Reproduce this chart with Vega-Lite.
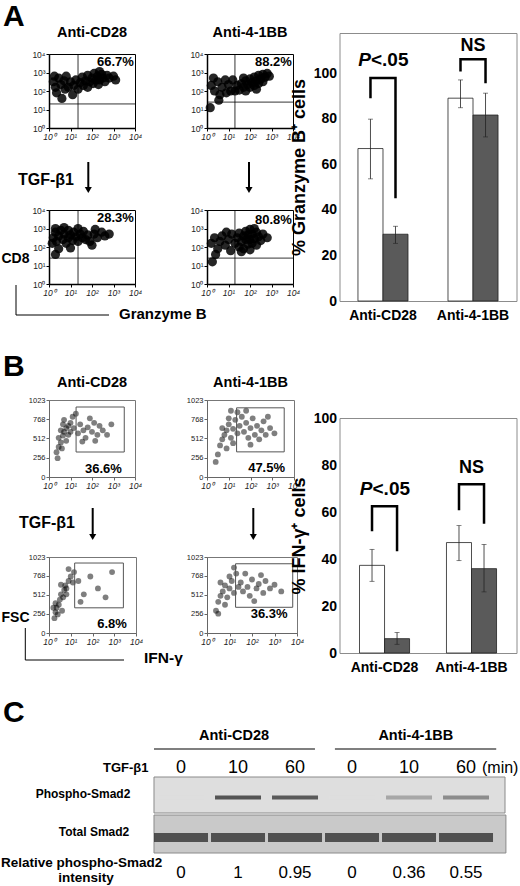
{
"$schema":"https://vega.github.io/schema/vega-lite/v6.json",
"padding":0,
"background":"white",
"config":{"font":"Liberation Sans","view":{"stroke":null},"title":{"font":"Liberation Sans"},"axis":{"labelFont":"Liberation Sans","titleFont":"Liberation Sans"}},
"datasets":{
"flowA":[
{"plot":"A1","lx":1.15,"ly":2.3},{"plot":"A1","lx":1.25,"ly":2.6},{"plot":"A1","lx":1.35,"ly":2.1},{"plot":"A1","lx":1.45,"ly":2.45},{"plot":"A1","lx":1.55,"ly":2.75},{"plot":"A1","lx":1.6,"ly":2.3},{"plot":"A1","lx":1.7,"ly":2.55},{"plot":"A1","lx":1.8,"ly":2.85},{"plot":"A1","lx":1.8,"ly":2.2},{"plot":"A1","lx":1.9,"ly":2.5},{"plot":"A1","lx":2.0,"ly":2.7},{"plot":"A1","lx":2.05,"ly":2.4},{"plot":"A1","lx":2.1,"ly":2.95},{"plot":"A1","lx":2.2,"ly":2.6},{"plot":"A1","lx":2.25,"ly":2.8},{"plot":"A1","lx":2.3,"ly":2.35},{"plot":"A1","lx":2.35,"ly":2.6},{"plot":"A1","lx":2.45,"ly":2.9},{"plot":"A1","lx":2.5,"ly":2.7},{"plot":"A1","lx":2.6,"ly":2.5},{"plot":"A1","lx":2.7,"ly":2.85},{"plot":"A1","lx":2.8,"ly":2.7},{"plot":"A1","lx":2.35,"ly":3.05},{"plot":"A1","lx":1.0,"ly":2.5},{"plot":"A1","lx":0.9,"ly":2.2},
{"plot":"A1","lx":0.2,"ly":2.5},{"plot":"A1","lx":0.3,"ly":2.2},{"plot":"A1","lx":0.45,"ly":2.7},{"plot":"A1","lx":0.55,"ly":2.35},{"plot":"A1","lx":0.7,"ly":2.55},{"plot":"A1","lx":0.75,"ly":2.1},{"plot":"A1","lx":0.35,"ly":1.9},{"plot":"A1","lx":0.8,"ly":2.8},{"plot":"A1","lx":0.25,"ly":2.8},{"plot":"A1","lx":1.1,"ly":1.8},{"plot":"A1","lx":0.6,"ly":1.6},{"plot":"A1","lx":3.0,"ly":2.8},{"plot":"A1","lx":3.1,"ly":2.6},
{"plot":"A2","lx":1.3,"ly":2.0},{"plot":"A2","lx":1.4,"ly":2.3},{"plot":"A2","lx":1.5,"ly":2.05},{"plot":"A2","lx":1.6,"ly":2.4},{"plot":"A2","lx":1.7,"ly":2.2},{"plot":"A2","lx":1.8,"ly":2.55},{"plot":"A2","lx":1.8,"ly":2.0},{"plot":"A2","lx":1.9,"ly":2.35},{"plot":"A2","lx":2.0,"ly":2.65},{"plot":"A2","lx":2.0,"ly":2.2},{"plot":"A2","lx":2.1,"ly":2.45},{"plot":"A2","lx":2.2,"ly":2.75},{"plot":"A2","lx":2.2,"ly":2.3},{"plot":"A2","lx":2.3,"ly":2.55},{"plot":"A2","lx":2.4,"ly":2.85},{"plot":"A2","lx":2.4,"ly":2.4},{"plot":"A2","lx":2.5,"ly":2.65},{"plot":"A2","lx":2.6,"ly":2.9},{"plot":"A2","lx":2.6,"ly":2.5},{"plot":"A2","lx":2.7,"ly":2.75},{"plot":"A2","lx":2.8,"ly":2.95},{"plot":"A2","lx":2.9,"ly":2.8},{"plot":"A2","lx":1.7,"ly":2.7},{"plot":"A2","lx":2.3,"ly":2.1},
{"plot":"A2","lx":0.2,"ly":2.3},{"plot":"A2","lx":0.35,"ly":2.0},{"plot":"A2","lx":0.5,"ly":2.5},{"plot":"A2","lx":0.6,"ly":1.8},{"plot":"A2","lx":0.7,"ly":2.2},{"plot":"A2","lx":0.85,"ly":2.6},{"plot":"A2","lx":0.9,"ly":1.9},{"plot":"A2","lx":1.0,"ly":2.35},{"plot":"A2","lx":1.1,"ly":2.0},{"plot":"A2","lx":1.2,"ly":2.6},{"plot":"A2","lx":0.3,"ly":2.7},{"plot":"A2","lx":0.55,"ly":1.5},{"plot":"A2","lx":0.15,"ly":1.1},
{"plot":"A3","lx":0.2,"ly":2.5},{"plot":"A3","lx":0.3,"ly":2.8},{"plot":"A3","lx":0.35,"ly":2.3},{"plot":"A3","lx":0.45,"ly":2.6},{"plot":"A3","lx":0.55,"ly":2.9},{"plot":"A3","lx":0.65,"ly":2.4},{"plot":"A3","lx":0.7,"ly":2.7},{"plot":"A3","lx":0.8,"ly":2.2},{"plot":"A3","lx":0.9,"ly":2.5},{"plot":"A3","lx":0.9,"ly":2.9},{"plot":"A3","lx":1.0,"ly":2.65},{"plot":"A3","lx":1.1,"ly":2.35},{"plot":"A3","lx":1.15,"ly":2.8},{"plot":"A3","lx":1.25,"ly":2.55},{"plot":"A3","lx":1.35,"ly":2.3},{"plot":"A3","lx":1.45,"ly":2.7},{"plot":"A3","lx":1.55,"ly":2.5},{"plot":"A3","lx":1.6,"ly":2.85},{"plot":"A3","lx":1.7,"ly":2.4},{"plot":"A3","lx":1.8,"ly":2.65},{"plot":"A3","lx":1.9,"ly":2.3},{"plot":"A3","lx":0.3,"ly":3.0},{"plot":"A3","lx":0.7,"ly":3.05},{"plot":"A3","lx":1.35,"ly":3.0},{"plot":"A3","lx":0.15,"ly":2.2},
{"plot":"A3","lx":2.1,"ly":2.7},{"plot":"A3","lx":2.25,"ly":2.5},{"plot":"A3","lx":2.45,"ly":2.8},{"plot":"A3","lx":2.6,"ly":2.6},{"plot":"A3","lx":2.8,"ly":2.7},{"plot":"A3","lx":2.0,"ly":2.1},{"plot":"A3","lx":0.45,"ly":1.9},{"plot":"A3","lx":1.0,"ly":1.95},{"plot":"A3","lx":0.3,"ly":1.6},{"plot":"A3","lx":2.15,"ly":2.95},
{"plot":"A4","lx":1.3,"ly":2.2},{"plot":"A4","lx":1.4,"ly":2.5},{"plot":"A4","lx":1.5,"ly":2.0},{"plot":"A4","lx":1.5,"ly":2.75},{"plot":"A4","lx":1.6,"ly":2.3},{"plot":"A4","lx":1.7,"ly":2.6},{"plot":"A4","lx":1.7,"ly":1.9},{"plot":"A4","lx":1.8,"ly":2.4},{"plot":"A4","lx":1.8,"ly":2.85},{"plot":"A4","lx":1.9,"ly":2.15},{"plot":"A4","lx":1.9,"ly":2.65},{"plot":"A4","lx":2.0,"ly":2.4},{"plot":"A4","lx":2.0,"ly":2.95},{"plot":"A4","lx":2.1,"ly":2.2},{"plot":"A4","lx":2.1,"ly":2.7},{"plot":"A4","lx":2.2,"ly":2.45},{"plot":"A4","lx":2.3,"ly":2.8},{"plot":"A4","lx":2.3,"ly":2.1},{"plot":"A4","lx":2.4,"ly":2.55},{"plot":"A4","lx":2.5,"ly":2.35},{"plot":"A4","lx":2.6,"ly":2.7},{"plot":"A4","lx":1.6,"ly":1.75},{"plot":"A4","lx":2.2,"ly":3.0},{"plot":"A4","lx":2.0,"ly":1.85},
{"plot":"A4","lx":0.2,"ly":2.2},{"plot":"A4","lx":0.35,"ly":2.5},{"plot":"A4","lx":0.5,"ly":1.9},{"plot":"A4","lx":0.6,"ly":2.3},{"plot":"A4","lx":0.7,"ly":2.6},{"plot":"A4","lx":0.85,"ly":2.1},{"plot":"A4","lx":1.0,"ly":2.4},{"plot":"A4","lx":1.1,"ly":1.8},{"plot":"A4","lx":1.15,"ly":2.7},{"plot":"A4","lx":0.4,"ly":1.6},{"plot":"A4","lx":0.9,"ly":2.8},{"plot":"A4","lx":2.8,"ly":2.5},{"plot":"A4","lx":0.25,"ly":1.2}
],
"quadA":[{"plot":"A1","lx":1.35,"lx2":1.35,"ly":0,"ly2":4},{"plot":"A1","lx":0,"lx2":4,"ly":1.3,"ly2":1.3},{"plot":"A2","lx":1.3,"lx2":1.3,"ly":0,"ly2":4},{"plot":"A2","lx":0,"lx2":4,"ly":1.4,"ly2":1.4},{"plot":"A3","lx":1.35,"lx2":1.35,"ly":0,"ly2":4},{"plot":"A3","lx":0,"lx2":4,"ly":1.4,"ly2":1.4},{"plot":"A4","lx":1.3,"lx2":1.3,"ly":0,"ly2":4},{"plot":"A4","lx":0,"lx2":4,"ly":1.4,"ly2":1.4}],
"pctA":[{"plot":"A1","label":"66.7%","lx":3.95,"ly":3.55},{"plot":"A2","label":"88.2%","lx":3.95,"ly":3.55},{"plot":"A3","label":"28.3%","lx":3.95,"ly":3.55},{"plot":"A4","label":"80.8%","lx":3.95,"ly":3.45}],
"flowB":[
{"plot":"B1","lx":0.35,"fsc":330},{"plot":"B1","lx":0.45,"fsc":400},{"plot":"B1","lx":0.55,"fsc":460},{"plot":"B1","lx":0.45,"fsc":520},{"plot":"B1","lx":0.65,"fsc":550},{"plot":"B1","lx":0.7,"fsc":600},{"plot":"B1","lx":0.8,"fsc":650},{"plot":"B1","lx":0.65,"fsc":700},{"plot":"B1","lx":0.9,"fsc":560},{"plot":"B1","lx":1.0,"fsc":720},{"plot":"B1","lx":1.1,"fsc":800},{"plot":"B1","lx":0.8,"fsc":480},{"plot":"B1","lx":0.55,"fsc":620},{"plot":"B1","lx":0.9,"fsc":680},{"plot":"B1","lx":1.0,"fsc":600},{"plot":"B1","lx":0.7,"fsc":760},{"plot":"B1","lx":1.15,"fsc":650},{"plot":"B1","lx":0.4,"fsc":250},{"plot":"B1","lx":0.6,"fsc":380},
{"plot":"B1","lx":1.35,"fsc":580},{"plot":"B1","lx":1.45,"fsc":700},{"plot":"B1","lx":1.6,"fsc":620},{"plot":"B1","lx":1.7,"fsc":520},{"plot":"B1","lx":1.8,"fsc":660},{"plot":"B1","lx":2.0,"fsc":600},{"plot":"B1","lx":2.1,"fsc":720},{"plot":"B1","lx":2.25,"fsc":560},{"plot":"B1","lx":2.35,"fsc":680},{"plot":"B1","lx":2.5,"fsc":620},{"plot":"B1","lx":2.7,"fsc":560},{"plot":"B1","lx":1.55,"fsc":470},{"plot":"B1","lx":1.9,"fsc":780},{"plot":"B1","lx":2.15,"fsc":480},{"plot":"B1","lx":2.9,"fsc":700},{"plot":"B1","lx":1.25,"fsc":840},
{"plot":"B2","lx":0.5,"fsc":300},{"plot":"B2","lx":0.6,"fsc":420},{"plot":"B2","lx":0.7,"fsc":500},{"plot":"B2","lx":0.8,"fsc":560},{"plot":"B2","lx":0.9,"fsc":620},{"plot":"B2","lx":1.0,"fsc":700},{"plot":"B2","lx":1.1,"fsc":520},{"plot":"B2","lx":1.2,"fsc":640},{"plot":"B2","lx":1.3,"fsc":760},{"plot":"B2","lx":1.4,"fsc":580},{"plot":"B2","lx":1.5,"fsc":680},{"plot":"B2","lx":1.2,"fsc":450},{"plot":"B2","lx":0.9,"fsc":380},{"plot":"B2","lx":1.0,"fsc":780},{"plot":"B2","lx":1.6,"fsc":800},{"plot":"B2","lx":1.4,"fsc":860},{"plot":"B2","lx":0.7,"fsc":650},{"plot":"B2","lx":0.4,"fsc":200},{"plot":"B2","lx":1.1,"fsc":880},
{"plot":"B2","lx":1.7,"fsc":600},{"plot":"B2","lx":1.8,"fsc":720},{"plot":"B2","lx":1.9,"fsc":520},{"plot":"B2","lx":2.0,"fsc":650},{"plot":"B2","lx":2.1,"fsc":780},{"plot":"B2","lx":2.2,"fsc":560},{"plot":"B2","lx":2.3,"fsc":680},{"plot":"B2","lx":2.4,"fsc":500},{"plot":"B2","lx":2.5,"fsc":620},{"plot":"B2","lx":2.6,"fsc":740},{"plot":"B2","lx":2.7,"fsc":560},{"plot":"B2","lx":2.9,"fsc":650},{"plot":"B2","lx":3.1,"fsc":580},{"plot":"B2","lx":2.0,"fsc":430},{"plot":"B2","lx":1.8,"fsc":880},{"plot":"B2","lx":2.8,"fsc":800},
{"plot":"B3","lx":0.25,"fsc":200},{"plot":"B3","lx":0.3,"fsc":280},{"plot":"B3","lx":0.35,"fsc":340},{"plot":"B3","lx":0.3,"fsc":400},{"plot":"B3","lx":0.45,"fsc":380},{"plot":"B3","lx":0.5,"fsc":450},{"plot":"B3","lx":0.55,"fsc":520},{"plot":"B3","lx":0.65,"fsc":480},{"plot":"B3","lx":0.7,"fsc":580},{"plot":"B3","lx":0.75,"fsc":640},{"plot":"B3","lx":0.8,"fsc":600},{"plot":"B3","lx":0.9,"fsc":700},{"plot":"B3","lx":1.0,"fsc":760},{"plot":"B3","lx":1.1,"fsc":680},{"plot":"B3","lx":1.15,"fsc":820},{"plot":"B3","lx":0.4,"fsc":250},{"plot":"B3","lx":0.6,"fsc":300},{"plot":"B3","lx":0.8,"fsc":520},{"plot":"B3","lx":0.9,"fsc":860},{"plot":"B3","lx":0.2,"fsc":340},{"plot":"B3","lx":0.55,"fsc":650},
{"plot":"B3","lx":1.35,"fsc":700},{"plot":"B3","lx":1.6,"fsc":520},{"plot":"B3","lx":1.9,"fsc":760},{"plot":"B3","lx":2.25,"fsc":600},{"plot":"B3","lx":2.6,"fsc":480},{"plot":"B3","lx":1.45,"fsc":420},{"plot":"B3","lx":2.9,"fsc":820},
{"plot":"B4","lx":0.4,"fsc":300},{"plot":"B4","lx":0.5,"fsc":420},{"plot":"B4","lx":0.6,"fsc":500},{"plot":"B4","lx":0.7,"fsc":560},{"plot":"B4","lx":0.8,"fsc":640},{"plot":"B4","lx":0.9,"fsc":480},{"plot":"B4","lx":1.0,"fsc":600},{"plot":"B4","lx":1.1,"fsc":700},{"plot":"B4","lx":1.2,"fsc":540},{"plot":"B4","lx":1.3,"fsc":800},{"plot":"B4","lx":0.8,"fsc":380},{"plot":"B4","lx":1.0,"fsc":760},{"plot":"B4","lx":0.6,"fsc":680},{"plot":"B4","lx":1.4,"fsc":620},{"plot":"B4","lx":0.5,"fsc":260},{"plot":"B4","lx":1.2,"fsc":880},
{"plot":"B4","lx":1.5,"fsc":680},{"plot":"B4","lx":1.6,"fsc":560},{"plot":"B4","lx":1.8,"fsc":620},{"plot":"B4","lx":1.9,"fsc":500},{"plot":"B4","lx":2.0,"fsc":720},{"plot":"B4","lx":2.2,"fsc":600},{"plot":"B4","lx":2.3,"fsc":660},{"plot":"B4","lx":2.5,"fsc":540},{"plot":"B4","lx":2.6,"fsc":700},{"plot":"B4","lx":2.8,"fsc":600},{"plot":"B4","lx":3.0,"fsc":650},{"plot":"B4","lx":3.3,"fsc":560},{"plot":"B4","lx":1.7,"fsc":800},{"plot":"B4","lx":2.1,"fsc":430},{"plot":"B4","lx":2.4,"fsc":780}
],
"gateB":[{"plot":"B1","lx":1.26,"lx2":3.5,"fsc":332,"fsc2":930},{"plot":"B2","lx":1.36,"lx2":3.55,"fsc":334,"fsc2":919},{"plot":"B3","lx":1.18,"lx2":3.42,"fsc":339,"fsc2":942},{"plot":"B4","lx":1.27,"lx2":3.81,"fsc":346,"fsc2":932}],
"pctB":[{"plot":"B1","label":"36.6%","lx":2.53,"fsc":100},{"plot":"B2","label":"47.5%","lx":2.74,"fsc":118},{"plot":"B3","label":"6.8%","lx":2.9,"fsc":125},{"plot":"B4","label":"36.3%","lx":2.76,"fsc":255}],
"granz":[{"group":"Anti-CD28","treat":"none","mean":66.9,"lo":53.6,"hi":79.8},{"group":"Anti-CD28","treat":"TGF-β1","mean":29.3,"lo":25.3,"hi":32.8},{"group":"Anti-4-1BB","treat":"none","mean":89,"lo":84.8,"hi":97},{"group":"Anti-4-1BB","treat":"TGF-β1","mean":81.6,"lo":72,"hi":91.2}],
"ifng":[{"group":"Anti-CD28","treat":"none","mean":37.3,"lo":30.5,"hi":44.1},{"group":"Anti-CD28","treat":"TGF-β1","mean":6.1,"lo":3.7,"hi":8.7},{"group":"Anti-4-1BB","treat":"none","mean":47,"lo":39.3,"hi":54.2},{"group":"Anti-4-1BB","treat":"TGF-β1","mean":35.9,"lo":26,"hi":46.2}],
"bracketA":[{"group":"Anti-CD28","treat":"none","o":1,"y":89},{"group":"Anti-CD28","treat":"none","o":2,"y":97.8},{"group":"Anti-CD28","treat":"TGF-β1","o":3,"y":97.8},{"group":"Anti-CD28","treat":"TGF-β1","o":4,"y":45.1},{"group":"Anti-4-1BB","treat":"none","o":1,"y":100.7},{"group":"Anti-4-1BB","treat":"none","o":2,"y":106.1},{"group":"Anti-4-1BB","treat":"TGF-β1","o":3,"y":106.1},{"group":"Anti-4-1BB","treat":"TGF-β1","o":4,"y":95.6}],
"bracketB":[{"group":"Anti-CD28","treat":"none","o":1,"y":51.8},{"group":"Anti-CD28","treat":"none","o":2,"y":62.4},{"group":"Anti-CD28","treat":"TGF-β1","o":3,"y":62.4},{"group":"Anti-CD28","treat":"TGF-β1","o":4,"y":43.3},{"group":"Anti-4-1BB","treat":"none","o":1,"y":60.7},{"group":"Anti-4-1BB","treat":"none","o":2,"y":71.8},{"group":"Anti-4-1BB","treat":"TGF-β1","o":3,"y":71.8},{"group":"Anti-4-1BB","treat":"TGF-β1","o":4,"y":55}],
"sigA":[{"group":"Anti-CD28","kind":"p","lead":"P","tail":"<.05","y":105.9},{"group":"Anti-4-1BB","kind":"ns","lead":"","tail":"NS","y":111.7}],
"sigB":[{"group":"Anti-CD28","kind":"p","lead":"P","tail":"<.05","y":69.9},{"group":"Anti-4-1BB","kind":"ns","lead":"","tail":"NS","y":78.7}],
"lanes":[{"lane":1,"time":"0","group":"Anti-CD28","pS":0},{"lane":2,"time":"10","group":"Anti-CD28","pS":1},{"lane":3,"time":"60","group":"Anti-CD28","pS":0.95},{"lane":4,"time":"0","group":"Anti-4-1BB","pS":0},{"lane":5,"time":"10","group":"Anti-4-1BB","pS":0.36},{"lane":6,"time":"60","group":"Anti-4-1BB","pS":0.55}],
"blotGroups":[{"group":"Anti-CD28","from":0.526,"to":3.35,"mid":1.93},{"group":"Anti-4-1BB","from":3.7,"to":6.53,"mid":5.12}]
},
"spacing":16,
"vconcat":[
{"spacing":-15.5,"hconcat":[
 {"spacing":-44.2,"hconcat":[
  {"bounds":"flush","spacing":0,"vconcat":[
   {"width":86,"height":54,"data":{"values":[{"t":"A"}]},"mark":{"type":"text","fontSize":30,"fontWeight":"bold","align":"left","baseline":"middle","color":"black"},"encoding":{"x":{"datum":-46,"type":"quantitative","scale":{"domain":[0,86]},"axis":null},"y":{"datum":17,"type":"quantitative","scale":{"domain":[0,54],"reverse":true},"axis":null},"text":{"field":"t"}}},
   {"width":86,"height":74,"title":{"text":"Anti-CD28","fontSize":14.5,"fontWeight":"bold","color":"black","anchor":"middle","frame":"group","offset":10},"view":{"stroke":"black","strokeWidth":1},
    "encoding":{"x":{"field":"lx","type":"quantitative","scale":{"domain":[0,4],"nice":false,"zero":false},"axis":{"values":[0,1,2,3,4],"labelExpr":"'10'+['⁰','¹','²','³','⁴'][datum.value]","labelOverlap":false,"title":null,"grid":false,"domainColor":"black","domainWidth":1.5,"tickSize":3,"tickColor":"black","labelFontSize":8.5,"labelColor":"#222","labelFontStyle":"italic","labelPadding":1,"labelFlush":false}},"y":{"field":"ly","type":"quantitative","scale":{"domain":[0,4],"nice":false,"zero":false},"axis":{"values":[0,1,2,3,4],"labelExpr":"'10'+['⁰','¹','²','³','⁴'][datum.value]","labelOverlap":false,"title":null,"grid":false,"domainColor":"black","domainWidth":1.5,"tickSize":3,"tickColor":"black","labelFontSize":8.5,"labelColor":"#222","labelPadding":1,"labelFlush":false}}},
    "layer":[
     {"data":{"name":"flowA"},"transform":[{"filter":"datum.plot==='A1'"}],"mark":{"type":"circle","size":85,"opacity":0.85,"color":"black"}},
     {"data":{"name":"quadA"},"transform":[{"filter":"datum.plot==='A1'"}],"mark":{"type":"rule","color":"black","strokeWidth":0.8},"encoding":{"x2":{"field":"lx2"},"y2":{"field":"ly2"}}},
     {"data":{"name":"pctA"},"transform":[{"filter":"datum.plot==='A1'"}],"mark":{"type":"text","align":"right","baseline":"middle","fontSize":13,"fontWeight":"bold","color":"black"},"encoding":{"text":{"field":"label"}}}
    ]},
   {"width":86,"height":82,"data":{"values":[{"t":"TGF-β1"}]},
    "layer":[
     {"mark":{"type":"rule","strokeWidth":2,"color":"black"},"encoding":{"x":{"datum":39.3,"type":"quantitative","scale":{"domain":[0,86]},"axis":null},"y":{"datum":34,"type":"quantitative","scale":{"domain":[0,82],"reverse":true},"axis":null},"y2":{"datum":60}}},
     {"mark":{"type":"point","shape":"triangle-down","filled":true,"size":50,"color":"black","opacity":1},"encoding":{"x":{"datum":39.3,"type":"quantitative","scale":{"domain":[0,86]},"axis":null},"y":{"datum":62,"type":"quantitative","scale":{"domain":[0,82],"reverse":true},"axis":null}}},
     {"mark":{"type":"text","fontSize":16,"fontWeight":"bold","align":"center","baseline":"middle","color":"black"},"encoding":{"x":{"datum":-3,"type":"quantitative","scale":{"domain":[0,86]},"axis":null},"y":{"datum":52,"type":"quantitative","scale":{"domain":[0,82],"reverse":true},"axis":null},"text":{"field":"t"}}}
    ]},
   {"width":86,"height":74,"view":{"stroke":"black","strokeWidth":1},
    "encoding":{"x":{"field":"lx","type":"quantitative","scale":{"domain":[0,4],"nice":false,"zero":false},"axis":{"values":[0,1,2,3,4],"labelExpr":"'10'+['⁰','¹','²','³','⁴'][datum.value]","labelOverlap":false,"title":null,"grid":false,"domainColor":"black","domainWidth":1.5,"tickSize":3,"tickColor":"black","labelFontSize":8.5,"labelColor":"#222","labelFontStyle":"italic","labelPadding":1,"labelFlush":false}},"y":{"field":"ly","type":"quantitative","scale":{"domain":[0,4],"nice":false,"zero":false},"axis":{"values":[0,1,2,3,4],"labelExpr":"'10'+['⁰','¹','²','³','⁴'][datum.value]","labelOverlap":false,"title":"CD8","titleAngle":0,"titleAlign":"left","titleBaseline":"middle","titleX":-48,"titleY":48,"titleFontSize":14,"titleFontWeight":"bold","titleColor":"black","grid":false,"domainColor":"black","domainWidth":1.5,"tickSize":3,"tickColor":"black","labelFontSize":8.5,"labelColor":"#222","labelPadding":1,"labelFlush":false}}},
    "layer":[
     {"data":{"name":"flowA"},"transform":[{"filter":"datum.plot==='A3'"}],"mark":{"type":"circle","size":85,"opacity":0.85,"color":"black"}},
     {"data":{"name":"quadA"},"transform":[{"filter":"datum.plot==='A3'"}],"mark":{"type":"rule","color":"black","strokeWidth":0.8},"encoding":{"x2":{"field":"lx2"},"y2":{"field":"ly2"}}},
     {"data":{"name":"pctA"},"transform":[{"filter":"datum.plot==='A3'"}],"mark":{"type":"text","align":"right","baseline":"middle","fontSize":13,"fontWeight":"bold","color":"black"},"encoding":{"text":{"field":"label"}}}
    ]},
   {"width":86,"height":116,"data":{"values":[{"t":"Granzyme B","letter":"B"}]},
    "layer":[
     {"mark":{"type":"rule","strokeWidth":1,"color":"black"},"encoding":{"x":{"datum":-33,"type":"quantitative","scale":{"domain":[0,86]},"axis":null},"y":{"datum":1,"type":"quantitative","scale":{"domain":[0,116],"reverse":true},"axis":null},"y2":{"datum":31}}},
     {"mark":{"type":"rule","strokeWidth":1,"color":"black"},"encoding":{"x":{"datum":-33,"type":"quantitative","scale":{"domain":[0,86]},"axis":null},"x2":{"datum":60},"y":{"datum":31,"type":"quantitative","scale":{"domain":[0,116],"reverse":true},"axis":null}}},
     {"mark":{"type":"text","fontSize":15,"fontWeight":"bold","align":"left","baseline":"middle","color":"black"},"encoding":{"x":{"datum":70,"type":"quantitative","scale":{"domain":[0,86]},"axis":null},"y":{"datum":30,"type":"quantitative","scale":{"domain":[0,116],"reverse":true},"axis":null},"text":{"field":"t"}}},
     {"mark":{"type":"text","fontSize":30,"fontWeight":"bold","align":"left","baseline":"middle","color":"black"},"encoding":{"x":{"datum":-46,"type":"quantitative","scale":{"domain":[0,86]},"axis":null},"y":{"datum":83,"type":"quantitative","scale":{"domain":[0,116],"reverse":true},"axis":null},"text":{"field":"letter"}}}
    ]},
   {"width":86,"height":77,"title":{"text":"Anti-CD28","fontSize":14.5,"fontWeight":"bold","color":"black","anchor":"middle","frame":"group","offset":6},"view":{"stroke":"#777","strokeWidth":1},
    "encoding":{"x":{"field":"lx","type":"quantitative","scale":{"domain":[0,4],"nice":false,"zero":false},"axis":{"values":[0,1,2,3,4],"labelExpr":"'10'+['⁰','¹','²','³','⁴'][datum.value]","labelOverlap":false,"title":null,"grid":false,"domainColor":"#666","tickSize":3,"tickColor":"#666","labelFontSize":8.5,"labelColor":"#222","labelFontStyle":"italic","labelPadding":1,"labelFlush":false}},"y":{"field":"fsc","type":"quantitative","scale":{"domain":[0,1023],"nice":false,"zero":false},"axis":{"values":[0,256,512,768,1023],"format":"d","labelOverlap":false,"title":null,"grid":false,"domainColor":"#666","tickSize":3,"tickColor":"#666","labelFontSize":7.5,"labelColor":"#222","labelPadding":1,"labelFlush":false}}},
    "layer":[
     {"data":{"name":"flowB"},"transform":[{"filter":"datum.plot==='B1'"}],"mark":{"type":"circle","size":34,"opacity":0.5,"color":"black"}},
     {"data":{"name":"gateB"},"transform":[{"filter":"datum.plot==='B1'"}],"mark":{"type":"rect","fill":"white","fillOpacity":0,"stroke":"#555","strokeWidth":1},"encoding":{"x2":{"field":"lx2"},"y2":{"field":"fsc2"}}},
     {"data":{"name":"pctB"},"transform":[{"filter":"datum.plot==='B1'"}],"mark":{"type":"text","align":"center","baseline":"middle","fontSize":13,"fontWeight":"bold","color":"black"},"encoding":{"text":{"field":"label"}}}
    ]},
   {"width":86,"height":80,"data":{"values":[{"t":"TGF-β1"}]},
    "layer":[
     {"mark":{"type":"rule","strokeWidth":2,"color":"black"},"encoding":{"x":{"datum":43.7,"type":"quantitative","scale":{"domain":[0,86]},"axis":null},"y":{"datum":31,"type":"quantitative","scale":{"domain":[0,80],"reverse":true},"axis":null},"y2":{"datum":58}}},
     {"mark":{"type":"point","shape":"triangle-down","filled":true,"size":50,"color":"black","opacity":1},"encoding":{"x":{"datum":43.7,"type":"quantitative","scale":{"domain":[0,86]},"axis":null},"y":{"datum":60,"type":"quantitative","scale":{"domain":[0,80],"reverse":true},"axis":null}}},
     {"mark":{"type":"text","fontSize":16,"fontWeight":"bold","align":"center","baseline":"middle","color":"black"},"encoding":{"x":{"datum":-2,"type":"quantitative","scale":{"domain":[0,86]},"axis":null},"y":{"datum":46,"type":"quantitative","scale":{"domain":[0,80],"reverse":true},"axis":null},"text":{"field":"t"}}}
    ]},
   {"width":87,"height":76,"view":{"stroke":"#777","strokeWidth":1},
    "encoding":{"x":{"field":"lx","type":"quantitative","scale":{"domain":[0,4],"nice":false,"zero":false},"axis":{"values":[0,1,2,3,4],"labelExpr":"'10'+['⁰','¹','²','³','⁴'][datum.value]","labelOverlap":false,"title":null,"grid":false,"domainColor":"#666","tickSize":3,"tickColor":"#666","labelFontSize":8.5,"labelColor":"#222","labelFontStyle":"italic","labelPadding":1,"labelFlush":false}},"y":{"field":"fsc","type":"quantitative","scale":{"domain":[0,1023],"nice":false,"zero":false},"axis":{"values":[0,256,512,768,1023],"format":"d","labelOverlap":false,"title":"FSC","titleAngle":0,"titleAlign":"left","titleBaseline":"middle","titleX":-48,"titleY":60,"titleFontSize":14,"titleFontWeight":"bold","titleColor":"black","grid":false,"domainColor":"#666","tickSize":3,"tickColor":"#666","labelFontSize":7.5,"labelColor":"#222","labelPadding":1,"labelFlush":false}}},
    "layer":[
     {"data":{"name":"flowB"},"transform":[{"filter":"datum.plot==='B3'"}],"mark":{"type":"circle","size":34,"opacity":0.5,"color":"black"}},
     {"data":{"name":"gateB"},"transform":[{"filter":"datum.plot==='B3'"}],"mark":{"type":"rect","fill":"white","fillOpacity":0,"stroke":"#555","strokeWidth":1},"encoding":{"x2":{"field":"lx2"},"y2":{"field":"fsc2"}}},
     {"data":{"name":"pctB"},"transform":[{"filter":"datum.plot==='B3'"}],"mark":{"type":"text","align":"center","baseline":"middle","fontSize":13,"fontWeight":"bold","color":"black"},"encoding":{"text":{"field":"label"}}}
    ]},
   {"width":86,"height":32,"data":{"values":[{"t":"IFN-γ"}]},
    "layer":[
     {"mark":{"type":"rule","strokeWidth":1,"color":"black"},"encoding":{"x":{"datum":-23.7,"type":"quantitative","scale":{"domain":[0,86]},"axis":null},"y":{"datum":-5,"type":"quantitative","scale":{"domain":[0,32],"reverse":true},"axis":null},"y2":{"datum":27}}},
     {"mark":{"type":"rule","strokeWidth":1,"color":"black"},"encoding":{"x":{"datum":-23.7,"type":"quantitative","scale":{"domain":[0,86]},"axis":null},"x2":{"datum":75},"y":{"datum":27,"type":"quantitative","scale":{"domain":[0,32],"reverse":true},"axis":null}}},
     {"mark":{"type":"text","fontSize":15.5,"fontWeight":"bold","align":"left","baseline":"middle","color":"black"},"encoding":{"x":{"datum":95,"type":"quantitative","scale":{"domain":[0,86]},"axis":null},"y":{"datum":25,"type":"quantitative","scale":{"domain":[0,32],"reverse":true},"axis":null},"text":{"field":"t"}}}
    ]}
  ]},
  {"bounds":"flush","spacing":0,"vconcat":[
   {"width":86,"height":54,"data":{"values":[{"t":""}]},"mark":{"type":"text"},"encoding":{"text":{"field":"t"}}},
   {"width":86,"height":74,"title":{"text":"Anti-4-1BB","fontSize":14.5,"fontWeight":"bold","color":"black","anchor":"middle","frame":"group","offset":10},"view":{"stroke":"black","strokeWidth":1},
    "encoding":{"x":{"field":"lx","type":"quantitative","scale":{"domain":[0,4],"nice":false,"zero":false},"axis":{"values":[0,1,2,3,4],"labelExpr":"'10'+['⁰','¹','²','³','⁴'][datum.value]","labelOverlap":false,"title":null,"grid":false,"domainColor":"black","domainWidth":1.5,"tickSize":3,"tickColor":"black","labelFontSize":8.5,"labelColor":"#222","labelFontStyle":"italic","labelPadding":1,"labelFlush":false}},"y":{"field":"ly","type":"quantitative","scale":{"domain":[0,4],"nice":false,"zero":false},"axis":{"values":[0,1,2,3,4],"labelExpr":"'10'+['⁰','¹','²','³','⁴'][datum.value]","labelOverlap":false,"title":null,"grid":false,"domainColor":"black","domainWidth":1.5,"tickSize":3,"tickColor":"black","labelFontSize":8.5,"labelColor":"#222","labelPadding":1,"labelFlush":false}}},
    "layer":[
     {"data":{"name":"flowA"},"transform":[{"filter":"datum.plot==='A2'"}],"mark":{"type":"circle","size":85,"opacity":0.85,"color":"black"}},
     {"data":{"name":"quadA"},"transform":[{"filter":"datum.plot==='A2'"}],"mark":{"type":"rule","color":"black","strokeWidth":0.8},"encoding":{"x2":{"field":"lx2"},"y2":{"field":"ly2"}}},
     {"data":{"name":"pctA"},"transform":[{"filter":"datum.plot==='A2'"}],"mark":{"type":"text","align":"right","baseline":"middle","fontSize":13,"fontWeight":"bold","color":"black"},"encoding":{"text":{"field":"label"}}}
    ]},
   {"width":86,"height":82,"data":{"values":[{"t":""}]},
    "layer":[
     {"mark":{"type":"rule","strokeWidth":2,"color":"black"},"encoding":{"x":{"datum":42,"type":"quantitative","scale":{"domain":[0,86]},"axis":null},"y":{"datum":34,"type":"quantitative","scale":{"domain":[0,82],"reverse":true},"axis":null},"y2":{"datum":60}}},
     {"mark":{"type":"point","shape":"triangle-down","filled":true,"size":50,"color":"black","opacity":1},"encoding":{"x":{"datum":42,"type":"quantitative","scale":{"domain":[0,86]},"axis":null},"y":{"datum":62,"type":"quantitative","scale":{"domain":[0,82],"reverse":true},"axis":null}}}
    ]},
   {"width":86,"height":74,"view":{"stroke":"black","strokeWidth":1},
    "encoding":{"x":{"field":"lx","type":"quantitative","scale":{"domain":[0,4],"nice":false,"zero":false},"axis":{"values":[0,1,2,3,4],"labelExpr":"'10'+['⁰','¹','²','³','⁴'][datum.value]","labelOverlap":false,"title":null,"grid":false,"domainColor":"black","domainWidth":1.5,"tickSize":3,"tickColor":"black","labelFontSize":8.5,"labelColor":"#222","labelFontStyle":"italic","labelPadding":1,"labelFlush":false}},"y":{"field":"ly","type":"quantitative","scale":{"domain":[0,4],"nice":false,"zero":false},"axis":{"values":[0,1,2,3,4],"labelExpr":"'10'+['⁰','¹','²','³','⁴'][datum.value]","labelOverlap":false,"title":null,"grid":false,"domainColor":"black","domainWidth":1.5,"tickSize":3,"tickColor":"black","labelFontSize":8.5,"labelColor":"#222","labelPadding":1,"labelFlush":false}}},
    "layer":[
     {"data":{"name":"flowA"},"transform":[{"filter":"datum.plot==='A4'"}],"mark":{"type":"circle","size":85,"opacity":0.85,"color":"black"}},
     {"data":{"name":"quadA"},"transform":[{"filter":"datum.plot==='A4'"}],"mark":{"type":"rule","color":"black","strokeWidth":0.8},"encoding":{"x2":{"field":"lx2"},"y2":{"field":"ly2"}}},
     {"data":{"name":"pctA"},"transform":[{"filter":"datum.plot==='A4'"}],"mark":{"type":"text","align":"right","baseline":"middle","fontSize":13,"fontWeight":"bold","color":"black"},"encoding":{"text":{"field":"label"}}}
    ]},
   {"width":86,"height":116,"data":{"values":[{"t":""}]},"mark":{"type":"text"},"encoding":{"text":{"field":"t"}}},
   {"width":87,"height":77,"title":{"text":"Anti-4-1BB","fontSize":14.5,"fontWeight":"bold","color":"black","anchor":"middle","frame":"group","offset":6},"view":{"stroke":"#777","strokeWidth":1},
    "encoding":{"x":{"field":"lx","type":"quantitative","scale":{"domain":[0,4],"nice":false,"zero":false},"axis":{"values":[0,1,2,3,4],"labelExpr":"'10'+['⁰','¹','²','³','⁴'][datum.value]","labelOverlap":false,"title":null,"grid":false,"domainColor":"#666","tickSize":3,"tickColor":"#666","labelFontSize":8.5,"labelColor":"#222","labelFontStyle":"italic","labelPadding":1,"labelFlush":false}},"y":{"field":"fsc","type":"quantitative","scale":{"domain":[0,1023],"nice":false,"zero":false},"axis":{"values":[0,256,512,768,1023],"format":"d","labelOverlap":false,"title":null,"grid":false,"domainColor":"#666","tickSize":3,"tickColor":"#666","labelFontSize":7.5,"labelColor":"#222","labelPadding":1,"labelFlush":false}}},
    "layer":[
     {"data":{"name":"flowB"},"transform":[{"filter":"datum.plot==='B2'"}],"mark":{"type":"circle","size":34,"opacity":0.5,"color":"black"}},
     {"data":{"name":"gateB"},"transform":[{"filter":"datum.plot==='B2'"}],"mark":{"type":"rect","fill":"white","fillOpacity":0,"stroke":"#555","strokeWidth":1},"encoding":{"x2":{"field":"lx2"},"y2":{"field":"fsc2"}}},
     {"data":{"name":"pctB"},"transform":[{"filter":"datum.plot==='B2'"}],"mark":{"type":"text","align":"center","baseline":"middle","fontSize":13,"fontWeight":"bold","color":"black"},"encoding":{"text":{"field":"label"}}}
    ]},
   {"width":86,"height":80,"data":{"values":[{"t":""}]},
    "layer":[
     {"mark":{"type":"rule","strokeWidth":2,"color":"black"},"encoding":{"x":{"datum":46.3,"type":"quantitative","scale":{"domain":[0,86]},"axis":null},"y":{"datum":31,"type":"quantitative","scale":{"domain":[0,80],"reverse":true},"axis":null},"y2":{"datum":58}}},
     {"mark":{"type":"point","shape":"triangle-down","filled":true,"size":50,"color":"black","opacity":1},"encoding":{"x":{"datum":46.3,"type":"quantitative","scale":{"domain":[0,86]},"axis":null},"y":{"datum":60,"type":"quantitative","scale":{"domain":[0,80],"reverse":true},"axis":null}}}
    ]},
   {"width":90,"height":76,"view":{"stroke":"#777","strokeWidth":1},
    "encoding":{"x":{"field":"lx","type":"quantitative","scale":{"domain":[0,4],"nice":false,"zero":false},"axis":{"values":[0,1,2,3,4],"labelExpr":"'10'+['⁰','¹','²','³','⁴'][datum.value]","labelOverlap":false,"title":null,"grid":false,"domainColor":"#666","tickSize":3,"tickColor":"#666","labelFontSize":8.5,"labelColor":"#222","labelFontStyle":"italic","labelPadding":1,"labelFlush":false}},"y":{"field":"fsc","type":"quantitative","scale":{"domain":[0,1023],"nice":false,"zero":false},"axis":{"values":[0,256,512,768,1023],"format":"d","labelOverlap":false,"title":null,"grid":false,"domainColor":"#666","tickSize":3,"tickColor":"#666","labelFontSize":7.5,"labelColor":"#222","labelPadding":1,"labelFlush":false}}},
    "layer":[
     {"data":{"name":"flowB"},"transform":[{"filter":"datum.plot==='B4'"}],"mark":{"type":"circle","size":34,"opacity":0.5,"color":"black"}},
     {"data":{"name":"gateB"},"transform":[{"filter":"datum.plot==='B4'"}],"mark":{"type":"rect","fill":"white","fillOpacity":0,"stroke":"#555","strokeWidth":1},"encoding":{"x2":{"field":"lx2"},"y2":{"field":"fsc2"}}},
     {"data":{"name":"pctB"},"transform":[{"filter":"datum.plot==='B4'"}],"mark":{"type":"text","align":"center","baseline":"middle","fontSize":13,"fontWeight":"bold","color":"black"},"encoding":{"text":{"field":"label"}}}
    ]},
   {"width":86,"height":32,"data":{"values":[{"t":""}]},"mark":{"type":"text"},"encoding":{"text":{"field":"t"}}}
  ]}
 ]},
 {"bounds":"flush","spacing":0,"vconcat":[
  {"width":177,"height":33,"data":{"values":[{"t":""}]},"mark":{"type":"text"},"encoding":{"text":{"field":"t"}}},
  {"width":177,"height":268,"view":{"stroke":"#8c8c8c","strokeWidth":1},
   "layer":[
    {"data":{"name":"granz"},"mark":{"type":"bar","stroke":"#222","strokeWidth":0.8},"encoding":{"x":{"field":"group","type":"nominal","sort":["Anti-CD28","Anti-4-1BB"],"scale":{"paddingInner":0.444,"paddingOuter":0.205},"axis":{"title":null,"labelAngle":0,"labelFontSize":14,"labelFontWeight":"bold","labelColor":"black","ticks":false,"domain":false,"labelPadding":7}},"xOffset":{"field":"treat","type":"nominal","sort":["none","TGF-β1"],"scale":{"paddingInner":0,"paddingOuter":0}},"y":{"field":"mean","type":"quantitative","scale":{"domain":[0,117.6],"nice":false},"axis":{"values":[0,20,40,60,80,100],"title":"% Granzyme B⁺ cells","titleFontSize":18,"titleFontWeight":"bold","titleColor":"black","labelFontSize":14,"labelFontWeight":"bold","labelColor":"black","grid":false,"ticks":false,"domain":false,"labelPadding":3,"titlePadding":5}},"color":{"field":"treat","type":"nominal","scale":{"domain":["none","TGF-β1"],"range":["#ffffff","#5a5a5a"]},"legend":null}}},
    {"data":{"name":"granz"},"mark":{"type":"rule","color":"#222","strokeWidth":0.8},"encoding":{"x":{"field":"group","type":"nominal","sort":["Anti-CD28","Anti-4-1BB"]},"xOffset":{"field":"treat","type":"nominal","sort":["none","TGF-β1"]},"y":{"field":"lo","type":"quantitative"},"y2":{"field":"hi"}}},
    {"data":{"name":"granz"},"mark":{"type":"tick","color":"#222","thickness":0.8,"size":5,"orient":"horizontal"},"encoding":{"x":{"field":"group","type":"nominal","sort":["Anti-CD28","Anti-4-1BB"]},"xOffset":{"field":"treat","type":"nominal","sort":["none","TGF-β1"]},"y":{"field":"lo","type":"quantitative"}}},
    {"data":{"name":"granz"},"mark":{"type":"tick","color":"#222","thickness":0.8,"size":5,"orient":"horizontal"},"encoding":{"x":{"field":"group","type":"nominal","sort":["Anti-CD28","Anti-4-1BB"]},"xOffset":{"field":"treat","type":"nominal","sort":["none","TGF-β1"]},"y":{"field":"hi","type":"quantitative"}}},
    {"data":{"name":"bracketA"},"mark":{"type":"line","color":"black","strokeWidth":2.5,"strokeCap":"butt","strokeJoin":"miter"},"encoding":{"x":{"field":"group","type":"nominal","sort":["Anti-CD28","Anti-4-1BB"]},"xOffset":{"field":"treat","type":"nominal","sort":["none","TGF-β1"]},"y":{"field":"y","type":"quantitative"},"detail":{"field":"group"},"order":{"field":"o"}}},
    {"data":{"name":"sigA"},"transform":[{"filter":"datum.kind==='p'"}],"mark":{"type":"text","fontSize":19,"fontWeight":"bold","fontStyle":"italic","align":"right","baseline":"middle","dx":-12,"color":"black"},"encoding":{"x":{"field":"group","type":"nominal","sort":["Anti-CD28","Anti-4-1BB"]},"y":{"field":"y","type":"quantitative"},"text":{"field":"lead"}}},
    {"data":{"name":"sigA"},"transform":[{"filter":"datum.kind==='p'"}],"mark":{"type":"text","fontSize":19,"fontWeight":"bold","align":"left","baseline":"middle","dx":-12,"color":"black"},"encoding":{"x":{"field":"group","type":"nominal","sort":["Anti-CD28","Anti-4-1BB"]},"y":{"field":"y","type":"quantitative"},"text":{"field":"tail"}}},
    {"data":{"name":"sigA"},"transform":[{"filter":"datum.kind==='ns'"}],"mark":{"type":"text","fontSize":18,"fontWeight":"bold","align":"center","baseline":"middle","color":"black"},"encoding":{"x":{"field":"group","type":"nominal","sort":["Anti-CD28","Anti-4-1BB"]},"y":{"field":"y","type":"quantitative"},"text":{"field":"tail"}}}
   ]},
  {"width":177,"height":117,"data":{"values":[{"t":""}]},"mark":{"type":"text"},"encoding":{"text":{"field":"t"}}},
  {"width":177,"height":235,"view":{"stroke":"#8c8c8c","strokeWidth":1},
   "layer":[
    {"data":{"name":"ifng"},"mark":{"type":"bar","stroke":"#222","strokeWidth":0.8},"encoding":{"x":{"field":"group","type":"nominal","sort":["Anti-CD28","Anti-4-1BB"],"scale":{"paddingInner":0.425,"paddingOuter":0.23},"axis":{"title":null,"labelAngle":0,"labelFontSize":14,"labelFontWeight":"bold","labelColor":"black","ticks":false,"domain":false,"labelPadding":7}},"xOffset":{"field":"treat","type":"nominal","sort":["none","TGF-β1"],"scale":{"paddingInner":0,"paddingOuter":0}},"y":{"field":"mean","type":"quantitative","scale":{"domain":[0,100],"nice":false},"axis":{"values":[0,20,40,60,80,100],"title":"% IFN-γ⁺ cells","titleFontSize":18,"titleFontWeight":"bold","titleColor":"black","labelFontSize":14,"labelFontWeight":"bold","labelColor":"black","grid":false,"ticks":false,"domain":false,"labelPadding":3,"titlePadding":5}},"color":{"field":"treat","type":"nominal","scale":{"domain":["none","TGF-β1"],"range":["#ffffff","#5a5a5a"]},"legend":null}}},
    {"data":{"name":"ifng"},"mark":{"type":"rule","color":"#222","strokeWidth":0.8},"encoding":{"x":{"field":"group","type":"nominal","sort":["Anti-CD28","Anti-4-1BB"]},"xOffset":{"field":"treat","type":"nominal","sort":["none","TGF-β1"]},"y":{"field":"lo","type":"quantitative"},"y2":{"field":"hi"}}},
    {"data":{"name":"ifng"},"mark":{"type":"tick","color":"#222","thickness":0.8,"size":5,"orient":"horizontal"},"encoding":{"x":{"field":"group","type":"nominal","sort":["Anti-CD28","Anti-4-1BB"]},"xOffset":{"field":"treat","type":"nominal","sort":["none","TGF-β1"]},"y":{"field":"lo","type":"quantitative"}}},
    {"data":{"name":"ifng"},"mark":{"type":"tick","color":"#222","thickness":0.8,"size":5,"orient":"horizontal"},"encoding":{"x":{"field":"group","type":"nominal","sort":["Anti-CD28","Anti-4-1BB"]},"xOffset":{"field":"treat","type":"nominal","sort":["none","TGF-β1"]},"y":{"field":"hi","type":"quantitative"}}},
    {"data":{"name":"bracketB"},"mark":{"type":"line","color":"black","strokeWidth":2.5,"strokeCap":"butt","strokeJoin":"miter"},"encoding":{"x":{"field":"group","type":"nominal","sort":["Anti-CD28","Anti-4-1BB"]},"xOffset":{"field":"treat","type":"nominal","sort":["none","TGF-β1"]},"y":{"field":"y","type":"quantitative"},"detail":{"field":"group"},"order":{"field":"o"}}},
    {"data":{"name":"sigB"},"transform":[{"filter":"datum.kind==='p'"}],"mark":{"type":"text","fontSize":19,"fontWeight":"bold","fontStyle":"italic","align":"right","baseline":"middle","dx":-12,"color":"black"},"encoding":{"x":{"field":"group","type":"nominal","sort":["Anti-CD28","Anti-4-1BB"]},"y":{"field":"y","type":"quantitative"},"text":{"field":"lead"}}},
    {"data":{"name":"sigB"},"transform":[{"filter":"datum.kind==='p'"}],"mark":{"type":"text","fontSize":19,"fontWeight":"bold","align":"left","baseline":"middle","dx":-12,"color":"black"},"encoding":{"x":{"field":"group","type":"nominal","sort":["Anti-CD28","Anti-4-1BB"]},"y":{"field":"y","type":"quantitative"},"text":{"field":"tail"}}},
    {"data":{"name":"sigB"},"transform":[{"filter":"datum.kind==='ns'"}],"mark":{"type":"text","fontSize":18,"fontWeight":"bold","align":"center","baseline":"middle","color":"black"},"encoding":{"x":{"field":"group","type":"nominal","sort":["Anti-CD28","Anti-4-1BB"]},"y":{"field":"y","type":"quantitative"},"text":{"field":"tail"}}}
   ]}
 ]}
]},
{"hconcat":[
{"width":456,"height":196,
 "layer":[
  {"data":{"values":[{"blot":"Phospho-Smad2"}]},"mark":{"type":"rect","fill":"#dedede","stroke":"#8a8a8a","strokeWidth":1},"encoding":{"x":{"datum":0.526,"type":"quantitative","scale":{"domain":[-1.316,6.684]},"axis":null},"x2":{"datum":6.684},"y":{"datum":4.3,"type":"quantitative","scale":{"domain":[0,9.8],"reverse":true},"axis":null},"y2":{"datum":6.1}}},
  {"data":{"values":[{"blot":"Total Smad2"}]},"mark":{"type":"rect","fill":"#c9c9c9","stroke":"#8a8a8a","strokeWidth":1},"encoding":{"x":{"datum":0.526,"type":"quantitative","scale":{"domain":[-1.316,6.684]},"axis":null},"x2":{"datum":6.7},"y":{"datum":6.2,"type":"quantitative","scale":{"domain":[0,9.8],"reverse":true},"axis":null},"y2":{"datum":8.1}}},
  {"data":{"name":"lanes"},"mark":{"type":"tick","orient":"horizontal","size":46,"thickness":4},"encoding":{"x":{"field":"lane","type":"quantitative","scale":{"domain":[-1.316,6.684]},"axis":null},"y":{"datum":5.33,"type":"quantitative","scale":{"domain":[0,9.8],"reverse":true},"axis":null},"color":{"field":"pS","type":"quantitative","scale":{"domain":[0,1],"range":["#dedede","#1a1a1a"]},"legend":null}}},
  {"data":{"name":"lanes"},"mark":{"type":"tick","orient":"horizontal","size":54,"thickness":9,"color":"#1c1c1c"},"encoding":{"x":{"field":"lane","type":"quantitative","scale":{"domain":[-1.316,6.684]},"axis":null},"y":{"datum":7.33,"type":"quantitative","scale":{"domain":[0,9.8],"reverse":true},"axis":null}}},
  {"data":{"name":"blotGroups"},"mark":{"type":"rule","strokeWidth":1.2,"color":"black"},"encoding":{"x":{"field":"from","type":"quantitative","scale":{"domain":[-1.316,6.684]},"axis":null},"x2":{"field":"to"},"y":{"datum":2.9,"type":"quantitative","scale":{"domain":[0,9.8],"reverse":true},"axis":null}}},
  {"data":{"name":"blotGroups"},"mark":{"type":"text","fontSize":14.5,"fontWeight":"bold","align":"center","baseline":"middle","color":"black"},"encoding":{"x":{"field":"mid","type":"quantitative","scale":{"domain":[-1.316,6.684]},"axis":null},"y":{"datum":2.25,"type":"quantitative","scale":{"domain":[0,9.8],"reverse":true},"axis":null},"text":{"field":"group"}}},
  {"data":{"name":"lanes"},"mark":{"type":"text","fontSize":18,"align":"center","baseline":"middle","color":"black"},"encoding":{"x":{"field":"lane","type":"quantitative","scale":{"domain":[-1.316,6.684]},"axis":null},"y":{"datum":3.85,"type":"quantitative","scale":{"domain":[0,9.8],"reverse":true},"axis":null},"text":{"field":"time"}}},
  {"data":{"values":[{"u":"(min)"}]},"mark":{"type":"text","fontSize":16,"align":"left","baseline":"middle","color":"black"},"encoding":{"x":{"datum":6.28,"type":"quantitative","scale":{"domain":[-1.316,6.684]},"axis":null},"y":{"datum":3.85,"type":"quantitative","scale":{"domain":[0,9.8],"reverse":true},"axis":null},"text":{"field":"u"}}},
  {"data":{"values":[{"label":"TGF-β1"}]},"mark":{"type":"text","fontSize":13,"fontWeight":"bold","align":"right","baseline":"middle","color":"black"},"encoding":{"x":{"datum":0.43,"type":"quantitative","scale":{"domain":[-1.316,6.684]},"axis":null},"y":{"datum":3.85,"type":"quantitative","scale":{"domain":[0,9.8],"reverse":true},"axis":null},"text":{"field":"label"}}},
  {"data":{"values":[{"label":"Phospho-Smad2"}]},"mark":{"type":"text","fontSize":12,"fontWeight":"bold","align":"center","baseline":"middle","color":"black"},"encoding":{"x":{"datum":-0.72,"type":"quantitative","scale":{"domain":[-1.316,6.684]},"axis":null},"y":{"datum":5.15,"type":"quantitative","scale":{"domain":[0,9.8],"reverse":true},"axis":null},"text":{"field":"label"}}},
  {"data":{"values":[{"label":"Total Smad2"}]},"mark":{"type":"text","fontSize":12,"fontWeight":"bold","align":"center","baseline":"middle","color":"black"},"encoding":{"x":{"datum":-0.526,"type":"quantitative","scale":{"domain":[-1.316,6.684]},"axis":null},"y":{"datum":7.05,"type":"quantitative","scale":{"domain":[0,9.8],"reverse":true},"axis":null},"text":{"field":"label"}}},
  {"data":{"values":[{"label":"Relative phospho-Smad2"}]},"mark":{"type":"text","fontSize":13.5,"fontWeight":"bold","align":"left","baseline":"middle","color":"black"},"encoding":{"x":{"datum":-2.158,"type":"quantitative","scale":{"domain":[-1.316,6.684]},"axis":null},"y":{"datum":8.6,"type":"quantitative","scale":{"domain":[0,9.8],"reverse":true},"axis":null},"text":{"field":"label"}}},
  {"data":{"values":[{"label":"intensity"}]},"mark":{"type":"text","fontSize":13.5,"fontWeight":"bold","align":"center","baseline":"middle","color":"black"},"encoding":{"x":{"datum":-0.667,"type":"quantitative","scale":{"domain":[-1.316,6.684]},"axis":null},"y":{"datum":9.35,"type":"quantitative","scale":{"domain":[0,9.8],"reverse":true},"axis":null},"text":{"field":"label"}}},
  {"data":{"name":"lanes"},"mark":{"type":"text","fontSize":17,"align":"center","baseline":"middle","color":"black"},"encoding":{"x":{"field":"lane","type":"quantitative","scale":{"domain":[-1.316,6.684]},"axis":null},"y":{"datum":9.1,"type":"quantitative","scale":{"domain":[0,9.8],"reverse":true},"axis":null},"text":{"field":"pS","type":"quantitative","format":"~g"}}},
  {"data":{"values":[{"letter":"C"}]},"mark":{"type":"text","fontSize":30,"fontWeight":"bold","align":"left","baseline":"middle","color":"black"},"encoding":{"x":{"datum":-2.123,"type":"quantitative","scale":{"domain":[-1.316,6.684]},"axis":null},"y":{"datum":1.1,"type":"quantitative","scale":{"domain":[0,9.8],"reverse":true},"axis":null},"text":{"field":"letter"}}}
 ]}
]}
]
}
